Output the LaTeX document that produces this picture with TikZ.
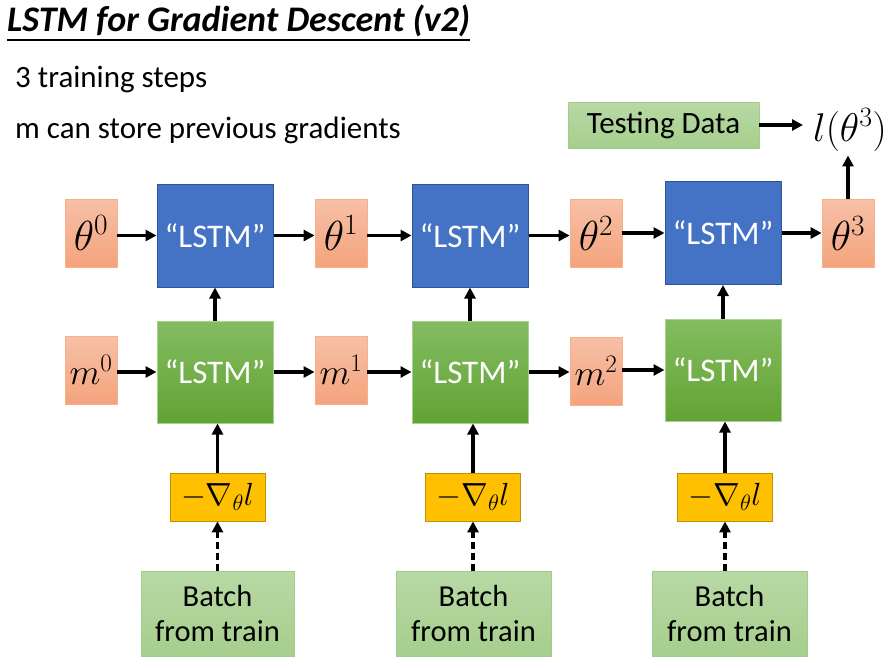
\RequirePackage{fix-cm}
\documentclass[tikz,border=0pt]{standalone}
\usepackage[no-math]{fontspec}
\setmainfont{Carlito}
\usetikzlibrary{arrows.meta}
\definecolor{blueF}{RGB}{68,114,196}
\definecolor{blueD}{RGB}{47,85,151}
\definecolor{greenT}{RGB}{131,188,96}
\definecolor{greenB}{RGB}{98,163,52}
\definecolor{greenD}{RGB}{169,209,142}
\definecolor{orT}{RGB}{247,192,167}
\definecolor{orB}{RGB}{244,163,124}
\definecolor{orD}{RGB}{248,176,136}
\definecolor{goldF}{RGB}{255,192,0}
\definecolor{goldD}{RGB}{191,144,0}
\definecolor{lgT}{RGB}{183,217,165}
\definecolor{lgB}{RGB}{166,206,140}
\definecolor{lgD}{RGB}{160,205,135}
\tikzset{
  txt/.style={inner sep=0pt, font=\fontsize{31}{36}\selectfont},
  lstmblue/.style={draw=blueD, fill=blueF, line width=1pt, minimum width=116pt, minimum height=103pt, inner sep=0pt, text=white, font=\fontsize{33}{38}\selectfont},
  lstmgreen/.style={draw=greenD, top color=greenT, bottom color=greenB, line width=1pt, minimum width=116pt, minimum height=102pt, inner sep=0pt, text=white, font=\fontsize{33}{38}\selectfont},
  var/.style={draw=orD, top color=orT, bottom color=orB, line width=0.8pt, minimum width=52pt, minimum height=68pt, inner sep=0pt, font=\fontsize{42}{48}\selectfont},
  mvar/.style={var, font=\fontsize{36}{42}\selectfont},
  gradbox/.style={draw=goldD, fill=goldF, line width=0.8pt, minimum width=95pt, minimum height=48pt, inner sep=0pt, font=\fontsize{32}{38}\selectfont},
  databox/.style={draw=lgD, top color=lgT, bottom color=lgB, line width=0.8pt, inner sep=0pt, align=center, font=\fontsize{30.5}{35}\selectfont},
  arr/.style={-{Triangle[length=11pt,width=11pt]}, line width=3.2pt, black},
  darr/.style={arr, dash pattern=on 7pt off 4pt},
}
\begin{document}
\begin{tikzpicture}[x=1pt,y=-1pt]
\useasboundingbox (0,0) rectangle (894,667);
% title and notes
\node[anchor=base west, inner sep=0pt, font=\fontsize{36}{42}\selectfont\bfseries\itshape] (title) at (7,31) {LSTM for Gradient Descent (v2)};
\draw[line width=1.2pt] ([yshift=-9pt]title.base west) -- ([yshift=-9pt]title.base east);
\node[txt, anchor=base west] (s1) at (15,87) {3 training steps};
\node[txt, anchor=base west] (s2) at (15,138) {m can store previous gradients};
% theta row
\node[var] (t0) at (91,233) {$\theta^0$};
\node[lstmblue] (b1) at (215,235.5) {“LSTM”};
\node[var] (t1) at (341,233) {$\theta^1$};
\node[lstmblue] (b2) at (470,235.5) {“LSTM”};
\node[var] (t2) at (596,233.5) {$\theta^2$};
\node[lstmblue] (b3) at (723,233) {“LSTM”};
\node[var] (t3) at (848,233.5) {$\theta^3$};
% m row
\node[mvar] (m0) at (91,370) {$m^0$};
\node[lstmgreen] (g1) at (215,372) {“LSTM”};
\node[mvar] (m1) at (341,370) {$m^1$};
\node[lstmgreen] (g2) at (470,372) {“LSTM”};
\node[mvar] (m2) at (596,371) {$m^2$};
\node[lstmgreen] (g3) at (723,370) {“LSTM”};
% gradients
\node[gradbox] (d1) at (217.5,497) {$-\nabla_\theta l$};
\node[gradbox] (d2) at (473,497) {$-\nabla_\theta l$};
\node[gradbox] (d3) at (725,497) {$-\nabla_\theta l$};
% batches
\node[databox, minimum width=153pt, minimum height=85pt] (h1) at (217.5,613.5) {Batch\\from train};
\node[databox, minimum width=155pt, minimum height=85pt] (h2) at (473.5,613.5) {Batch\\from train};
\node[databox, minimum width=155pt, minimum height=85pt] (h3) at (729.5,613.5) {Batch\\from train};
% testing
\node[databox, minimum width=191pt, minimum height=46pt, font=\fontsize{31}{36}\selectfont] (test) at (663.5,125) {Testing Data};
\node[inner xsep=10pt, inner ysep=4pt, font=\fontsize{40}{46}\selectfont] (loss) at (850,130) {$l(\theta^3)$};
% horizontal arrows
\draw[arr] (t0.east |- b1.west) -- (b1.west);
\draw[arr] (b1.east) -- (b1.east -| t1.west);
\draw[arr] (t1.east |- b2.west) -- (b2.west);
\draw[arr] (b2.east) -- (b2.east -| t2.west);
\draw[arr] (t2.east |- b3.west) -- (b3.west);
\draw[arr] (b3.east) -- (b3.east -| t3.west);
\draw[arr] (m0.east |- g1.west) -- (g1.west);
\draw[arr] (g1.east) -- (g1.east -| m1.west);
\draw[arr] (m1.east |- g2.west) -- (g2.west);
\draw[arr] (g2.east) -- (g2.east -| m2.west);
\draw[arr] (m2.east |- g3.west) -- (g3.west);
% vertical arrows
\draw[arr] (g1.north) -- (g1.north |- b1.south);
\draw[arr] (g2.north) -- (g2.north |- b2.south);
\draw[arr] (g3.north) -- (g3.north |- b3.south);
\draw[arr] (d1.north) -- (d1.north |- g1.south);
\draw[arr] (d2.north) -- (d2.north |- g2.south);
\draw[arr] (d3.north) -- (d3.north |- g3.south);
\draw[darr] (d1.south |- h1.north) -- (d1.south);
\draw[darr] (d2.south |- h2.north) -- (d2.south);
\draw[darr] (d3.south |- h3.north) -- (d3.south);
% loss arrows
\draw[arr] (t3.north) -- (t3.north |- loss.south);
\draw[arr] (test.east) -- (test.east -| loss.west);
\end{tikzpicture}
\end{document}
